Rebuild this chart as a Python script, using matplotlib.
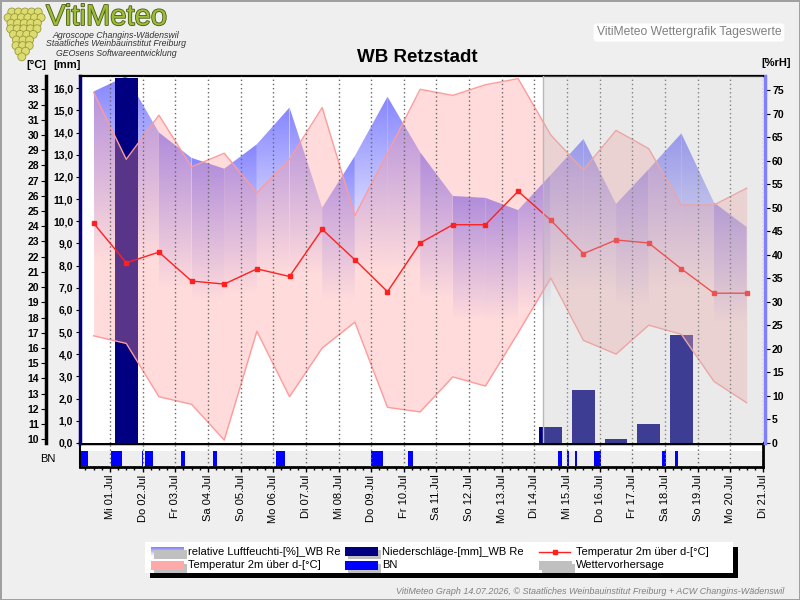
import numpy as np
import pandas as pd
import matplotlib
matplotlib.use('Agg')
import matplotlib.pyplot as plt
import matplotlib.dates as mdates
import matplotlib.patheffects as pe
from matplotlib.patches import Polygon, Rectangle, Circle
from matplotlib.transforms import IdentityTransform, blended_transform_factory

plt.rcParams['font.family'] = ['Liberation Sans', 'DejaVu Sans']

# ===================== Daten (Tageswerte, jeweils 12:00) =====================
tage = pd.date_range('2026-06-30 12:00', periods=21, freq='D')
temp_mittel = [24.2, 21.6, 22.3, 20.4, 20.2, 21.2, 20.7, 23.8, 21.8, 19.7, 22.9,
               24.1, 24.1, 26.3, 24.4, 22.2, 23.1, 22.9, 21.2, 19.6, 19.6]
temp_max = [32.8, 28.4, 31.3, 27.9, 28.8, 26.2, 28.4, 31.8, 24.7, 28.8, 33.0,
            32.6, 33.3, 33.7, 30.0, 27.7, 30.3, 29.1, 25.4, 25.4, 26.5]
temp_min = [16.8, 16.3, 12.8, 12.3, 9.95, 17.1, 12.8, 16.0, 17.7, 12.1, 11.8,
            14.1, 13.5, 17.0, 20.6, 16.5, 15.6, 17.5, 16.9, 13.8, 12.4]
rel_feuchte = [74.7, 78.0, 66.0, 60.6, 58.3, 63.5, 71.3, 50.0, 61.0, 73.6, 61.8,
               52.5, 52.1, 49.5, 57.0, 64.6, 50.8, 58.2, 65.8, 51.1, 45.9]
niederschlag = [0, 16.45, 0, 0, 0, 0, 0, 0, 0, 0, 0,
                0, 0, 0, 0.73, 2.4, 0.19, 0.87, 4.88, 0, 0]

# Blattnaesse (BN): Intervalle
bn_start = ['2026-06-30 02:00', '2026-07-01 01:00', '2026-07-01 23:30', '2026-07-02 02:00',
            '2026-07-03 04:00', '2026-07-04 04:00', '2026-07-06 02:00', '2026-07-09 00:00',
            '2026-07-10 03:00', '2026-07-14 17:00', '2026-07-15 00:00', '2026-07-15 05:30',
            '2026-07-15 19:30', '2026-07-17 22:00', '2026-07-18 07:00']
bn_ende = ['2026-06-30 08:00', '2026-07-01 09:00', '2026-07-02 00:15', '2026-07-02 08:00',
           '2026-07-03 07:00', '2026-07-04 07:00', '2026-07-06 08:30', '2026-07-09 09:00',
           '2026-07-10 07:00', '2026-07-14 20:00', '2026-07-15 01:30', '2026-07-15 07:00',
           '2026-07-16 00:45', '2026-07-18 01:00', '2026-07-18 09:30']

vorhersage_ab = '2026-07-14 06:00'
x_von, x_bis = '2026-06-30 02:00', '2026-07-21 00:00'
mitternacht = pd.date_range('2026-07-01', '2026-07-21', freq='D')
tag_labels = ['Mi 01.Jul', 'Do 02.Jul', 'Fr 03.Jul', 'Sa 04.Jul', 'So 05.Jul', 'Mo 06.Jul',
              'Di 07.Jul', 'Mi 08.Jul', 'Do 09.Jul', 'Fr 10.Jul', 'Sa 11.Jul', 'So 12.Jul',
              'Mo 13.Jul', 'Di 14.Jul', 'Mi 15.Jul', 'Do 16.Jul', 'Fr 17.Jul', 'Sa 18.Jul',
              'So 19.Jul', 'Mo 20.Jul', 'Di 21.Jul']

# ===================== Umrechnung =====================
x = mdates.date2num(tage)
x0, x1 = mdates.date2num(pd.to_datetime([x_von, x_bis]))
xv = mdates.date2num(pd.Timestamp(vorhersage_ab))
xm = mdates.date2num(mitternacht)
bs = mdates.date2num(pd.to_datetime(bn_start))
be = mdates.date2num(pd.to_datetime(bn_ende))
rh = np.array(rel_feuchte)

W, H = 800, 600


def px(l, t, r, b):  # Pixelbox -> Figurkoordinaten
    return [l / W, 1 - b / H, (r - l) / W, (b - t) / H]


fig = plt.figure(figsize=(8, 6), dpi=100, facecolor='#efefef')
fig.patch.set_edgecolor('#a0a0a0')
fig.patch.set_linewidth(1)

# ===================== Hauptdiagramm: drei Achsen uebereinander =====================
ax_rh = fig.add_axes(px(80, 76, 763, 443))
ax_mm = ax_rh.twinx()
ax_t = ax_rh.twinx()
ax_rh.set_zorder(1)
ax_mm.set_zorder(2)
ax_t.set_zorder(3)
ax_rh.set_facecolor('white')

# relative Luftfeuchte: Streifen mit Farbverlauf
for i in range(len(x) - 1):
    top = max(rh[i], rh[i + 1])
    poly = Polygon([[x[i], 0], [x[i], rh[i]], [x[i + 1], rh[i + 1]], [x[i + 1], 0]],
                   closed=True, fc='none', ec='none', transform=ax_rh.transData)
    ax_rh.add_patch(poly)
    ys = np.linspace(0, top, 200)
    alpha = np.clip((ys - top * 0.5) / (top * 0.5), 0, 1) * 0.95
    img = np.zeros((200, 1, 4))
    img[..., 0] = 0.5
    img[..., 1] = 0.5
    img[..., 2] = 1.0
    img[..., 3] = alpha[:, None]
    im = ax_rh.imshow(img, extent=[x[i], x[i + 1], 0, top], origin='lower',
                      aspect='auto', interpolation='bilinear')
    im.set_clip_path(poly)
ax_rh.set_xlim(x0, x1)
ax_rh.set_ylim(0, 78)

# Niederschlag-Skala (Achse ax_mm), Balken unter dem Temperaturband zeichnen
ax_mm.set_ylim(0, 16.55)
ax_mm.set_xlim(x0, x1)
trans_mm = blended_transform_factory(ax_t.transData, ax_mm.transData)
ax_t.bar(x, niederschlag, width=0.70, color='#000080', lw=0, zorder=0.5, transform=trans_mm)

# Temperatur: Band, Mittel, Vorhersage
ax_t.fill_between(x, temp_min, temp_max, color='#ff9999', alpha=0.35, lw=0, zorder=1)
ax_t.plot(x, temp_max, color='#ff9a9a', lw=1, zorder=2)
ax_t.plot(x, temp_min, color='#ff9a9a', lw=1, zorder=2)
ax_t.vlines(xm, 0, 1, transform=ax_t.get_xaxis_transform(), colors='#666666',
            linestyles=(0, (1, 2)), lw=1, zorder=3)
ax_t.plot(x, temp_mittel, color='#ff2020', lw=1, marker='s', ms=2.5, zorder=4)
ax_t.axvspan(xv, x1, color='#c0c0c0', alpha=0.32, lw=0, zorder=6)
ax_t.axvline(xv, color='#b8b8b8', lw=1, zorder=6)
ax_t.set_ylim(9.757, 33.874)
ax_t.set_xlim(x0, x1)

for a in (ax_rh, ax_mm, ax_t):
    a.tick_params(axis='x', bottom=False, labelbottom=False, top=False)
    for s in a.spines.values():
        s.set_visible(False)

# Achse rel. Feuchte (rechts)
ax_rh.yaxis.set_ticks_position('right')
ax_rh.spines['right'].set_visible(True)
ax_rh.spines['right'].set_color('#8080ff')
ax_rh.spines['right'].set_linewidth(2.5)
ax_rh.spines['right'].set_position(('outward', 1.5))
ax_rh.set_yticks(range(0, 80, 5), [str(v) for v in range(0, 80, 5)],
                 fontweight='bold', fontsize=7.5)
ax_rh.tick_params(axis='y', length=3.5, pad=1.5)

# Achse Niederschlag (links am Diagramm)
ax_mm.yaxis.set_ticks_position('left')
ax_mm.yaxis.set_label_position('left')
ax_mm.spines['left'].set_visible(True)
ax_mm.spines['left'].set_color('#000080')
ax_mm.spines['left'].set_linewidth(2.5)
ax_mm.set_yticks(range(0, 17), ['%d,0' % v for v in range(0, 17)],
                 fontweight='bold', fontsize=7.5)
ax_mm.tick_params(axis='y', length=3, pad=2)

# Achse Temperatur (weiter links)
ax_t.yaxis.set_ticks_position('left')
ax_t.yaxis.set_label_position('left')
ax_t.spines['left'].set_visible(True)
ax_t.spines['left'].set_color('black')
ax_t.spines['left'].set_linewidth(2.5)
ax_t.spines['left'].set_position(('axes', -34 / 683))
ax_t.spines['top'].set_visible(True)
ax_t.spines['top'].set_linewidth(1.6)
ax_t.set_yticks(range(10, 34), [str(v) for v in range(10, 34)],
                fontweight='bold', fontsize=7.5)
ax_t.tick_params(axis='y', length=3.5, pad=1.5)

# ===================== BN-Leiste =====================
ax_bn = fig.add_axes(px(80, 443, 763, 467))
ax_bn.set_facecolor('white')
ax_bn.axhspan(0.04, 0.66, color='#eeeeee', lw=0, zorder=0)
ax_bn.bar(bs, 0.62, width=be - bs, bottom=0.04, align='edge', color='#0000ff',
          lw=0, zorder=2)
ax_bn.vlines(xm, 0, 1, colors='#666666', linestyles=(0, (1, 2)), lw=1, zorder=3)
ax_bn.set_xlim(x0, x1)
ax_bn.set_ylim(0, 1)
ax_bn.set_yticks([])
ax_bn.set_xticks(xm, tag_labels, rotation=90, fontsize=8)
ax_bn.xaxis.set_minor_locator(matplotlib.ticker.MultipleLocator(0.25))
ax_bn.tick_params(axis='x', which='major', length=3.5, width=1, pad=2)
ax_bn.tick_params(axis='x', which='minor', length=2.5, width=1)
ax_bn.spines['top'].set_linewidth(2.5)
ax_bn.spines['bottom'].set_linewidth(2)
ax_bn.spines['left'].set_linewidth(1.5)
ax_bn.spines['right'].set_linewidth(2)
fig.text(48 / W, 1 - 459 / H, 'BN', ha='center', va='center', fontsize=8)

# ===================== Texte =====================
fig.text(417.5 / W, 1 - 58 / H, 'WB Retzstadt', ha='center', va='center',
         fontsize=13.5, fontweight='bold')
fig.text(36 / W, 1 - 65 / H, '[°C]', ha='center', va='center', fontsize=8, fontweight='bold')
fig.text(67 / W, 1 - 65 / H, '[mm]', ha='center', va='center', fontsize=8, fontweight='bold')
fig.text(776 / W, 1 - 63 / H, '[%rH]', ha='center', va='center', fontsize=8, fontweight='bold')
fig.text(689 / W, 1 - 32.5 / H, 'VitiMeteo Wettergrafik Tageswerte', ha='center',
         va='center', fontsize=8.7, color='#808080',
         bbox=dict(boxstyle='round,pad=0.25', fc='white', ec='none'))
fig.text(784 / W, 1 - 591 / H,
         'VitiMeteo Graph 14.07.2026, © Staatliches Weinbauinstitut Freiburg + ACW Changins-Wädenswil',
         ha='right', va='center', fontsize=6.5, style='italic', color='#808080')

# Logo
fig.text(46 / W, 1 - 25 / H, 'VitiMeteo', ha='left', va='baseline', fontsize=21,
         color='#9cbd38', path_effects=[pe.withStroke(linewidth=1.2, foreground='#4b5a12')])
for txt, ypx in [('Agroscope Changins-Wädenswil', 35),
                 ('Staatliches Weinbauinstitut Freiburg', 44),
                 ('GEOsens Softwareentwicklung', 53)]:
    fig.text(116 / W, 1 - ypx / H, txt, ha='center', va='center', fontsize=6.3,
             style='italic', color='#333333')
trauben_reihen = [5, 6, 5, 5, 4, 3, 3, 2, 1]
for i, n in enumerate(trauben_reihen):
    cy = 12 + i * 5.6
    cx = 25 - i * 0.4
    for k in range(n):
        gx = cx + (k - (n - 1) / 2) * 6.6
        fig.add_artist(Circle((gx, H - cy), 4.0, transform=IdentityTransform(),
                              fc='#dcdc70', ec='#9a9a3a', lw=0.6))

# ===================== Legende =====================
lx, ly, lw_, lh = 145, 542, 588, 31
fig.add_artist(Rectangle((lx + 5, H - ly - lh - 5), lw_, lh, transform=IdentityTransform(),
                         fc='black', ec='none', zorder=-1))
leg = fig.add_axes(px(lx, ly, lx + lw_, ly + lh))
leg.set_facecolor('white')
leg.set_xticks([])
leg.set_yticks([])
for s in leg.spines.values():
    s.set_visible(False)
r1, r2 = 21.3, 8.0
spalten = [6, 200, 394]


def leg_patch(xp, yc, farbe):
    leg.add_patch(Rectangle((xp + 3, yc - 7.5), 33, 9, fc='#c0c0c0', ec='none'))
    if farbe is not None:
        leg.add_patch(Rectangle((xp, yc - 4.5), 33, 9, fc=farbe, ec='none'))


leg_patch(spalten[0], r1, None)
grad = np.ones((50, 1, 4))
t = np.linspace(0, 1, 50)
grad[:, 0, 0] = 1 - 0.5 * t
grad[:, 0, 1] = 1 - 0.5 * t
leg.imshow(grad, extent=[spalten[0], spalten[0] + 33, r1 - 4.5, r1 + 4.5], origin='lower',
           aspect='auto')
leg_patch(spalten[0], r2, '#ffaaaa')
leg_patch(spalten[1], r1, '#000080')
leg_patch(spalten[1], r2, '#0000ff')
leg.plot([spalten[2], spalten[2] + 31], [r1, r1], color='#ff2020', lw=1)
leg.plot([spalten[2] + 15.5], [r1], color='#ff2020', marker='s', ms=2.5)
leg_patch(spalten[2], r2, '#c0c0c0')
leg.set_xlim(0, lw_)
leg.set_ylim(0, lh)
leg_texte = [('relative Luftfeuchti-[%]_WB Re', 0, r1), ('Temperatur 2m über d-[°C]', 0, r2),
             ('Niederschläge-[mm]_WB Re', 1, r1), ('BN', 1, r2),
             ('Temperatur 2m über d-[°C]', 2, r1), ('Wettervorhersage', 2, r2)]
for txt, sp, yc in leg_texte:
    leg.text(spalten[sp] + 37, yc, txt, ha='left', va='center', fontsize=8)

fig.savefig('out.png', dpi=100, facecolor=fig.get_facecolor(), edgecolor=fig.patch.get_edgecolor())
